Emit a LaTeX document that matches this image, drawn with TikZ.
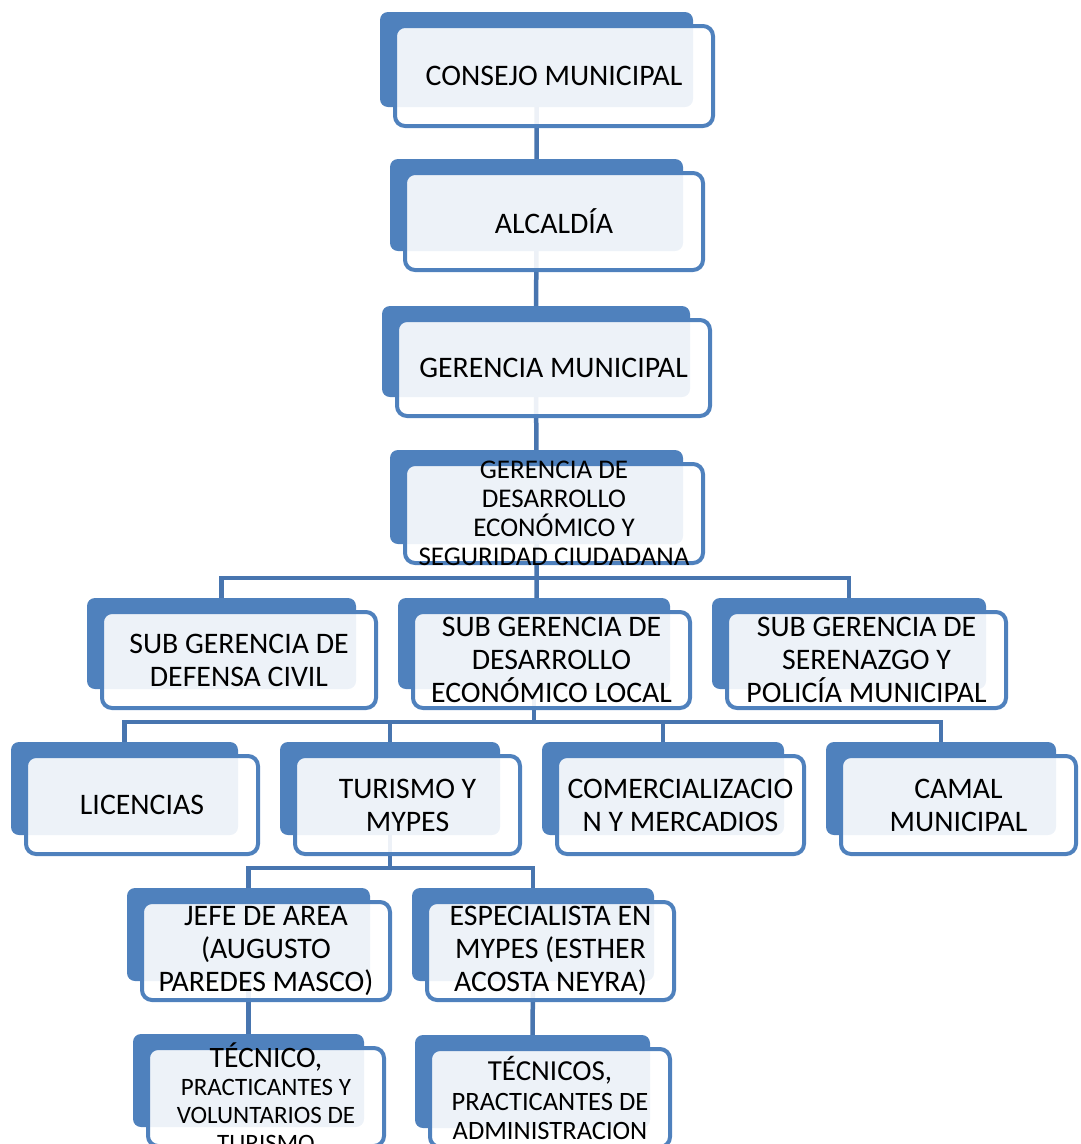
\documentclass[tikz,border=0pt]{standalone}
\usepackage{fontspec}
\setmainfont{Carlito}
\usetikzlibrary{backgrounds}

\definecolor{azul}{RGB}{79,129,189}
\definecolor{azulosc}{RGB}{72,117,175}

\tikzset{
    fondo/.style={fill=azul, rounded corners=8pt, inner sep=0pt},
    frente/.style={draw=azul, line width=4pt, fill=white, fill opacity=0.9,
        rounded corners=10pt, inner sep=0pt},
    texto/.style={align=center, text=black, inner sep=0pt,
        font=\fontsize{29.8}{33}\selectfont},
    linea/.style={draw=azulosc, line width=4.5pt},
}

% #2 nombre, #3 #4 centro del frente, #5 ancho, #6 alto, #7 texto
\newcommand{\caja}[7][]{
    \node[fondo, minimum width={(#5-9)*1pt}, minimum height={(#6-9)*1pt}]
        (#2) at ({#3-17.5}, {#4-16.5}) {};
    \node[frente, minimum width={(#5-4)*1pt}, minimum height={(#6-4)*1pt}]
        (#2-f) at (#3, #4) {};
    \node[texto, #1] (#2-t) at (#3, #4) {#7};
}

\begin{document}
\begin{tikzpicture}[x=1pt, y=-1pt]
    \useasboundingbox (0, 0) rectangle (1080, 1144);

    \caja{consejo}{554}{76}{322}{104}{CONSEJO MUNICIPAL}
    \caja{alcaldia}{554}{221.5}{302}{101}{ALCALDÍA}
    \caja{gerencia}{553.5}{368}{317}{100}{GERENCIA MUNICIPAL}
    \caja[font=\fontsize{27}{29}\selectfont]{gerdes}{554}{513.5}{302}{103}{GERENCIA DE\\DESARROLLO\\ECONÓMICO Y\\SEGURIDAD CIUDADANA}

    % sub gerencias
    \caja{defensa}{239}{660}{278}{100}{SUB GERENCIA DE\\DEFENSA CIVIL}
    \caja{desarrollo}{551.5}{660}{281}{100}{SUB GERENCIA DE\\DESARROLLO\\ECONÓMICO LOCAL}
    \caja{serenazgo}{866.5}{660}{283}{100}{SUB GERENCIA DE\\SERENAZGO Y\\POLICÍA MUNICIPAL}

    % areas
    \caja{licencias}{142}{805}{236}{102}{LICENCIAS}
    \caja{turismo}{407.5}{805}{229}{102}{TURISMO Y\\MYPES}
    \caja{comercial}{680.5}{805}{251}{102}{COMERCIALIZACIO\\N Y MERCADIOS}
    \caja{camal}{958.5}{805}{239}{102}{CAMAL\\MUNICIPAL}

    % personal
    \caja{jefe}{266}{951}{252}{102}{JEFE DE AREA\\(AUGUSTO\\PAREDES MASCO)}
    \caja{especialista}{550.5}{951}{251}{102}{ESPECIALISTA EN\\MYPES (ESTHER\\ACOSTA NEYRA)}
    \caja[font=\fontsize{25}{28}\selectfont]{tecnico}{266}{1097}{240}{102}{{\fontsize{29.6}{30}\selectfont TÉCNICO,}\\PRACTICANTES Y\\VOLUNTARIOS DE\\TURISMO}
    \caja[font=\fontsize{26.5}{29.5}\selectfont]{tecnicos}{550}{1098}{244}{102}{{\fontsize{29}{30}\selectfont TÉCNICOS,}\\PRACTICANTES DE\\ADMINISTRACION}

    \begin{scope}[on background layer]
        \coordinate (bus1) at (0, 578);
        \coordinate (bus2) at (0, 722);
        \coordinate (bus3) at (0, 868);
        \draw[linea] (consejo) -- (alcaldia) -- (gerencia) -- (gerdes) -- (gerdes |- desarrollo);
        \draw[linea] (defensa) -- (defensa |- bus1) -- (serenazgo |- bus1) -- (serenazgo);

        \draw[linea] (desarrollo) -- (desarrollo |- bus2);
        \draw[linea] (licencias) -- (licencias |- bus2) -- (camal |- bus2) -- (camal);
        \draw[linea] (turismo |- bus2) -- (turismo);
        \draw[linea] (comercial |- bus2) -- (comercial);

        \draw[linea] (turismo) -- (turismo |- bus3);
        \draw[linea] (jefe) -- (jefe |- bus3) -- (especialista |- bus3) -- (especialista);
        \draw[linea] (jefe) -- (tecnico);
        \draw[linea] (especialista) -- (tecnicos);
    \end{scope}
\end{tikzpicture}
\end{document}
